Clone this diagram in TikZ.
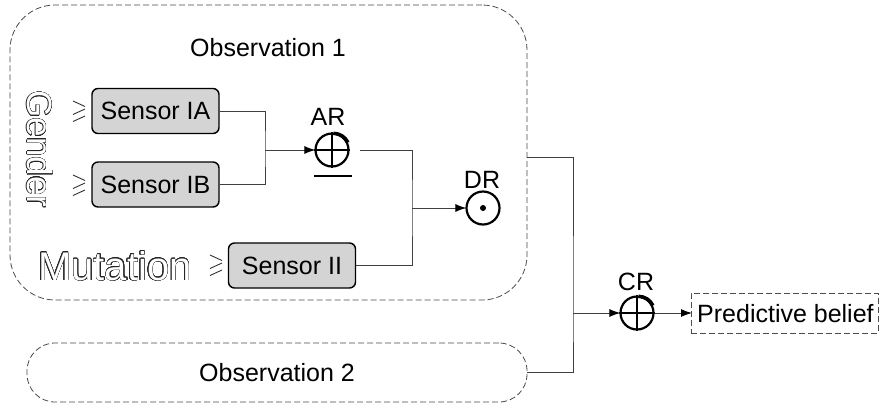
\documentclass[tikz,border=0pt]{standalone}
\usepackage{fontspec}
\setmainfont{Liberation Sans}
\usetikzlibrary{arrows.meta,calc}
\begin{document}
\begin{tikzpicture}[x=1pt,y=-1pt,
  txt/.style={font=\fontsize{25}{30}\selectfont, inner sep=0pt},
  gfont/.style={font=\fontsize{35}{40}\selectfont, inner sep=0pt},
  mfont/.style={font=\fontsize{40}{46}\selectfont, inner sep=0pt},
  obsbox/.style={draw=black!70, line width=0.8pt, dash pattern=on 6pt off 3pt, inner sep=0pt},
  sensor/.style={draw=black, line width=1.4pt, fill=black!17, rounded corners=6pt, minimum width=127pt, minimum height=45pt, inner sep=0pt, font=\fontsize{25}{30}\selectfont},
  circ/.style={circle, draw=black, line width=2.2pt, minimum size=33pt, inner sep=0pt},
  conn/.style={draw=black!75, line width=1pt},
  arr/.style={conn, -{Latex[length=11pt,width=8pt,black]}, shorten >=-1pt},
  geqline/.style={draw=black!80, line width=0.9pt}
]
\fill[white] (0,0) rectangle (880,413);
\useasboundingbox (0,0) rectangle (880,413);

% observation boxes
\node[obsbox, rounded corners=45pt, minimum width=517pt, minimum height=295pt] (o1) at (268.5,152.5) {};
\node[txt] (t1) at (268,48) {Observation 1};
\node[obsbox, rounded corners=28pt, minimum width=500pt, minimum height=59pt] (o2) at (277,372.5) {};
\node[txt] (t2) at (277,373) {Observation 2};

% sensors
\node[sensor] (sia) at (155.5,111) {Sensor IA};
\node[sensor] (sib) at (155.5,184.5) {Sensor IB};
\node[sensor] (sii) at (292,265.5) {Sensor II};

% slanted >= marks
\foreach \px/\py in {73/101, 73/175, 210/255} {
  \draw[geqline] (\px,\py) -- ++(12,5.5);
  \draw[geqline] (\px+12,\py+8) -- ++(-12,5.5);
  \draw[geqline] (\px+12,\py+15) -- ++(-12,5.5);
}

% outlined words
\coordinate (gpos) at (40,149);
\coordinate (mpos) at (115,266);
\foreach \a in {0,15,...,345} {
  \node[gfont, rotate=-90, text=black!85] at ($(gpos)+(\a:0.5pt)$) {Gender};
  \node[mfont, text=black!85] at ($(mpos)+(\a:0.5pt)$) {Mutation};
}
\node[gfont, rotate=-90, text=white] (gender) at (gpos) {Gender};
\node[mfont, text=white] (mutation) at (mpos) {Mutation};

% operators
\node[circ] (ar) at (332,150) {};
\draw[line width=2pt] (ar.north) -- (ar.south) (ar.west) -- (ar.east);
\draw[line width=3.5pt] (ar.25) arc[start angle=25, end angle=90, radius=16pt];
\node[txt] (arl) at (328,117) {AR};
\draw[line width=1.6pt] (314,176) -- (352,176);

\node[circ] (dr) at (483,208) {};
\fill (dr.center) circle (3pt);
\node[txt] (drl) at (482,180) {DR};

\node[circ] (cr) at (637,313) {};
\draw[line width=2pt] (cr.north) -- (cr.south) (cr.west) -- (cr.east);
\draw[line width=3.5pt] (cr.25) arc[start angle=25, end angle=90, radius=16pt];
\node[txt] (crl) at (636,282) {CR};

\node[obsbox, minimum width=187pt, minimum height=40pt, anchor=west] (pb) at (691,313) {};
\node[txt, anchor=west] (pbt) at (697,314) {Predictive belief};

% connectors
\coordinate (jA) at (265,150);
\coordinate (jB) at (412,208);
\coordinate (jC) at (573,313);
\draw[conn] (sia.east) -| (jA) |- (sib.east);
\draw[arr] (jA) -- (ar.west);
\draw[conn] ([xshift=10pt]ar.east) -| (jB) |- (sii.east);
\draw[arr] (jB) -- (dr.west);
\draw[conn] ([yshift=-4.5pt]o1.east) -| (jC) |- (o2.east);
\draw[arr] (jC) -- (cr.west);
\draw[arr] (cr.east) -- (pb.west);
\end{tikzpicture}
\end{document}
